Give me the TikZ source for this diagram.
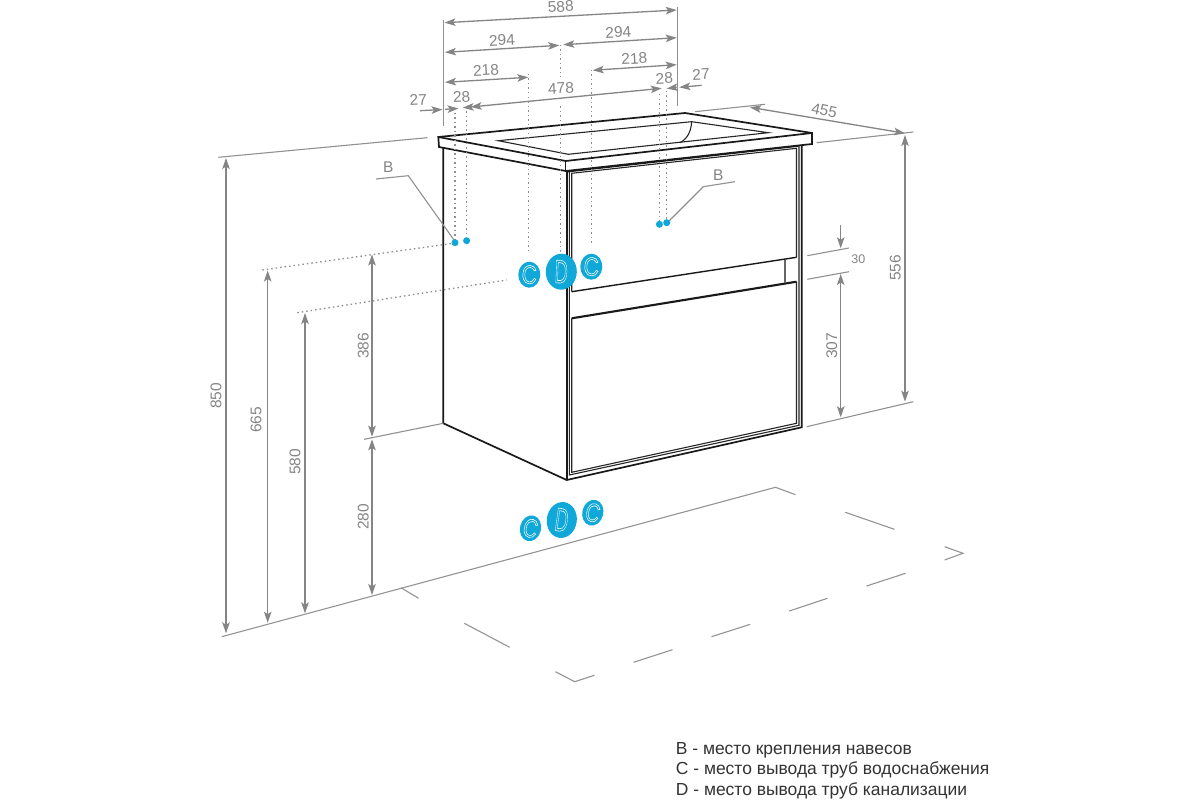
\documentclass[tikz,border=0pt]{standalone}
\usepackage{graphicx}
\usepackage{fontspec}
\setmainfont{Liberation Sans}
\usetikzlibrary{arrows.meta,shapes.geometric}
\definecolor{dimgray}{HTML}{858585}
\definecolor{pipeblue}{HTML}{0FA8D8}
\definecolor{legendink}{HTML}{333333}
\definecolor{dotgray}{HTML}{8F8F8F}
\newcommand{\outlined}[2]{\scalebox{#1}[1]{\special{pdf:code 1 Tr 0.6 w 1 1 1 RG}#2\special{pdf:code 0 Tr}}}
\tikzset{
  x=1pt,y=-1pt,
  dimline/.style={draw=dimgray,line width=1.3pt},
  ext/.style={draw=dimgray!90,line width=1.1pt},
  dima/.style={dimline,-{Stealth[length=11pt,width=7.5pt,inset=2.5pt]}},
  dimb/.style={dimline,{Stealth[length=11pt,width=7.5pt,inset=2.5pt]}-{Stealth[length=11pt,width=7.5pt,inset=2.5pt]}},
  dotl/.style={draw=dotgray,line width=1.3pt,dash pattern=on 1.5pt off 3pt},
  cab/.style={draw=black!90,line width=1.7pt,line join=miter},
  cabthin/.style={draw=black!85,line width=1.1pt},
  num/.style={text=dimgray,font=\fontsize{15.5}{15.5}\selectfont,inner sep=0pt},
  floorl/.style={draw=black!42,line width=1.1pt},
  pin/.style={fill=pipeblue,draw=none,circle,minimum size=7pt,inner sep=0pt},
  bubble/.style={fill=pipeblue,draw=none,ellipse,inner sep=0pt,text=white},
  legend/.style={anchor=base west,text=legendink,font=\fontsize{17.45}{17.45}\selectfont,inner sep=0pt},
  smallC/.style={font=\fontsize{26}{26}\selectfont},
  bigD/.style={font=\fontsize{33}{33}\selectfont},
}
\begin{document}
\begin{tikzpicture}
\useasboundingbox[fill=white] (0,0) rectangle (1200,800);
% floor
\draw[floorl] (795.5,494.7) -- (775.5,487.3) -- (221.7,636.7);
\draw[floorl] (401,587.7) -- (418.6,598.3);
\draw[floorl] (845.3,512.3) -- (894.4,529.3);
\draw[floorl] (944.6,546.7) -- (963,553.3) -- (944.6,560);
\draw[floorl] (905.6,573.3) -- (866.5,586);
\draw[floorl] (827.5,598.3) -- (789.2,611);
\draw[floorl] (750.2,624.3) -- (711.5,636.7);
\draw[floorl] (672.5,649.7) -- (633.5,662.3);
\draw[floorl] (594.4,675.3) -- (574.7,681.7) -- (555.4,671.7);
\draw[floorl] (509.7,647.3) -- (464.3,623.3);
% slab
\draw[cab] (438.3,137) -- (685,113) -- (812,133) -- (812,144) -- (565.7,171) -- (439,147) -- cycle;
\draw[cab] (438.3,137) -- (565.7,161) -- (812,133);
\draw[cab,line width=1.1pt] (565.7,161) -- (565.7,171);
\draw[cabthin] (498.3,140.7) -- (568.3,154.3) -- (768.3,132.7) -- (691.7,121.7) -- cycle;
\draw[cabthin] (691.7,121.7) .. controls (691,132) and (687,139) .. (680,142.7);
% body
\draw[cab] (443.3,147.7) -- (443.3,423.3) -- (566.7,480) -- (801.7,427.3) -- (801.7,145);
\draw[cab] (566.7,171) -- (566.7,480);
\draw[cabthin] (569.3,172) -- (569.3,475) -- (799,425.3) -- (799,146);
\draw[cab,line width=1.5pt] (567.3,171.7) -- (798.3,146);
\draw[cabthin] (571.7,291.7) -- (571.7,173.3) -- (796.5,148.3) -- (796.5,257.3);
\draw[cab,line width=1.4pt] (571.7,291.7) -- (796.5,257.3);
\draw[cabthin] (571.7,318.3) -- (571.7,472.3) -- (796.5,423.3) -- (796.5,281.7);
\draw[cab,line width=2.1pt] (571.7,318.3) -- (796.5,281.7);
\draw[draw=black!60,line width=1.3pt] (785,260) -- (785,283);
% dotted guides
\draw[dotl] (455,112.7) -- (455,242.7);
\draw[dotl] (466.6,111) -- (466.6,240.7);
\draw[dotl] (528.7,74) -- (528.7,251.7);
\draw[dotl] (560.5,45) -- (560.5,77);
\draw[dotl] (560.5,106) -- (560.5,253);
\draw[dotl] (591.5,70) -- (591.5,245);
\draw[dotl] (659.4,94) -- (659.4,224);
\draw[dotl] (666.7,91) -- (666.7,222.7);
\draw[dotl] (262.3,270) -- (453.3,243.3);
\draw[dotl] (297.3,312.7) -- (506.7,280);
% extension lines
\draw[ext] (443.3,20) -- (443.3,126);
\draw[ext] (677.7,6.7) -- (677.7,106);
\draw[ext] (218.3,157.3) -- (427.3,137.7);
\draw[ext] (364,439.3) -- (443.3,423.3);
\draw[ext] (695,111.7) -- (765,104.3);
\draw[ext] (816.7,142.7) -- (913.3,132);
\draw[ext] (806.7,426.7) -- (913.3,401.7);
\draw[ext] (807.3,255.7) -- (849,248);
\draw[ext] (807.3,279.3) -- (849,271.7);
% dimension arrows
\draw[dimb] (444.5,22.7) -- (676.7,10);
\draw[dimb] (445,52.3) -- (559.3,45.3);
\draw[dimb] (563.3,44.7) -- (676.7,37.7);
\draw[dimb] (445,82.3) -- (528.3,77.3);
\draw[dimb] (592.7,70.3) -- (676.7,64.7);
\draw[dima] (420,110.7) -- (442.5,109.5);
\draw[dima] (445,109.3) -- (458.5,108.5);
\draw[dima] (472,107) -- (462.7,107.7);
\draw[dimb] (470.7,107) -- (661.7,88.3);
\draw[dima] (676.7,87.3) -- (666.7,88.5);
\draw[dima] (701.7,85.3) -- (679.3,87.3);
\draw[dimb] (226,158) -- (226,633.3);
\draw[dimb] (267.7,270.5) -- (267.7,622.7);
\draw[dimb] (305,313) -- (305,613.3);
\draw[dimb] (372,254.5) -- (372,436.7);
\draw[dimb] (372,439.3) -- (372,595);
\draw[dimb] (750,107.3) -- (905,133.3);
\draw[dimb] (905,135) -- (905,401.7);
\draw[dimb] (840.7,274) -- (840.7,417.3);
\draw[dima] (840.7,225) -- (840.7,248.3);
% B leaders
\draw[ext] (376,179) -- (408.3,175.7) -- (454,240);
\draw[ext] (735,181.7) -- (703.3,186.7) -- (668.3,221.7);
% labels
\node[num,rotate=3] (d588) at (560.7,6.7) {588};
\node[num,rotate=3] (d294a) at (502,40) {294};
\node[num,rotate=3] (d294b) at (618.3,32.3) {294};
\node[num,rotate=3] (d218a) at (486,70.3) {218};
\node[num,rotate=3] (d218b) at (634.3,58.7) {218};
\node[num,rotate=3] (d478) at (561,88) {478};
\node[num,rotate=3] (d27a) at (418.3,100) {27};
\node[num,rotate=3] (d28a) at (461.7,96.7) {28};
\node[num,rotate=3] (d28b) at (664.3,78.3) {28};
\node[num,rotate=3] (d27b) at (701,74.3) {27};
\node[num,rotate=-12] (d455) at (824.3,110.7) {455};
\node[num,rotate=90] (d850) at (216,396) {850};
\node[num,rotate=90] (d665) at (256,420) {665};
\node[num,rotate=90] (d580) at (295,461.7) {580};
\node[num,rotate=90] (d386) at (363.3,346) {386};
\node[num,rotate=90] (d280) at (363.3,516.7) {280};
\node[num,rotate=90] (d556) at (895.3,267.7) {556};
\node[num,rotate=90] (d307) at (831.7,345.7) {307};
\node[num,font=\fontsize{12.5}{12.5}\selectfont] (d30) at (858.3,259.3) {30};
\node[num] (bl) at (388.3,167.3) {B};
\node[num] (br) at (718.3,175) {B};
% pins
\node[pin] (p1) at (455,242.7) {};
\node[pin] (p2) at (466.6,240.7) {};
\node[pin] (p3) at (659.4,224.3) {};
\node[pin] (p4) at (666.7,222.7) {};
% bubbles
\node[bubble,minimum width=22pt,minimum height=26pt,rotate=-2,smallC] (c1) at (529.3,274.7) {\outlined{.8}{C}};
\node[bubble,minimum width=31pt,minimum height=36pt,rotate=-2,bigD] (d1) at (561.3,271.7) {\outlined{.55}{D}};
\node[bubble,minimum width=22pt,minimum height=25pt,rotate=-2,smallC] (c2) at (591.3,266.7) {\outlined{.8}{C}};
\node[bubble,minimum width=21pt,minimum height=26pt,rotate=-14,smallC] (c3) at (530.5,528.3) {\outlined{.75}{C}};
\node[bubble,minimum width=30pt,minimum height=36pt,rotate=-8,bigD] (d2) at (561.8,520) {\outlined{.55}{D}};
\node[bubble,minimum width=21pt,minimum height=25pt,rotate=-14,smallC] (c4) at (592.8,512.7) {\outlined{.75}{C}};
% legend
\node[legend] (l1) at (675.7,754.3) {B - место крепления навесов};
\node[legend] (l2) at (675.7,774.5) {C - место вывода труб водоснабжения};
\node[legend] (l3) at (675.7,795) {D - место вывода труб канализации};
\end{tikzpicture}
\end{document}
